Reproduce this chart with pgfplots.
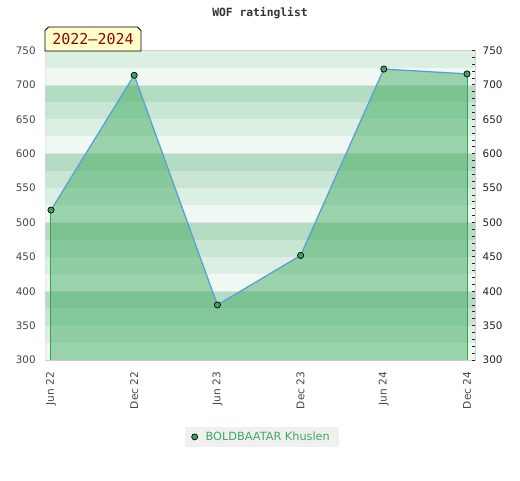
\documentclass[border=0pt]{standalone}
\usepackage{pgfplots}
\pgfplotsset{compat=1.18}
\usepackage{fontspec}
\setmainfont{DejaVu Sans}
\newfontfamily\monofont{DejaVu Sans Mono}
\definecolor{c1}{HTML}{DCEFE3}
\definecolor{c2}{HTML}{F0F8F3}
\definecolor{c3}{HTML}{B3DCC3}
\definecolor{c4}{HTML}{C8E6D3}
\definecolor{areagreen}{HTML}{3EAA5E}
\definecolor{edgegreen}{HTML}{3A9F5A}
\definecolor{lineblue}{HTML}{5B9FD8}
\definecolor{markgreen}{HTML}{3EA25E}
\definecolor{labelgray}{HTML}{474747}
\definecolor{rightgray}{HTML}{222222}
\definecolor{legendgreen}{HTML}{3DAA5F}
\definecolor{boxyellow}{HTML}{FFFFCC}
\definecolor{darkred}{HTML}{990000}
\begin{document}
\begin{tikzpicture}[x=1pt,y=1pt]
\path[use as bounding box] (0,0) rectangle (520,480);
\begin{axis}[
  at={(45.5pt,120pt)}, anchor=south west,
  scale only axis, width=429.5pt, height=309.5pt,
  xmin=-0.066, xmax=5.096, ymin=300, ymax=750,
  xtick={0,...,5},
  xticklabels={Jun 22,Dec 22,Jun 23,Dec 23,Jun 24,Dec 24},
  ytick={300,350,...,750},
  ytick pos=left, xtick pos=bottom,
  major tick length=0pt, minor tick length=0pt,
  tick style={draw=none},
  axis line style={draw=black!18, line width=1pt},
  xticklabel style={rotate=90, anchor=east, font=\fontsize{10.6}{12}\selectfont, text=labelgray},
  yticklabel style={font=\fontsize{10.4}{12}\selectfont, text=labelgray},
  xticklabel shift=8.2pt, yticklabel shift=6.3pt,
  /pgf/number format/assume math mode=true,
  legend style={at={(0.5035,-0.2485)}, anchor=center, fill=black!6, draw=none,
    font=\fontsize{11.3}{13}\selectfont, text=legendgreen, inner xsep=7pt, inner ysep=2.6pt,
    /tikz/every odd column/.style={column sep=6pt}},
  legend cell align=left,
]
% background stripes
\fill[c1] (axis cs:-1,725) rectangle (axis cs:6,750);
\fill[c2] (axis cs:-1,700) rectangle (axis cs:6,725);
\fill[c3] (axis cs:-1,675) rectangle (axis cs:6,700);
\fill[c4] (axis cs:-1,650) rectangle (axis cs:6,675);
\fill[c1] (axis cs:-1,625) rectangle (axis cs:6,650);
\fill[c2] (axis cs:-1,600) rectangle (axis cs:6,625);
\fill[c3] (axis cs:-1,575) rectangle (axis cs:6,600);
\fill[c4] (axis cs:-1,550) rectangle (axis cs:6,575);
\fill[c1] (axis cs:-1,525) rectangle (axis cs:6,550);
\fill[c2] (axis cs:-1,500) rectangle (axis cs:6,525);
\fill[c3] (axis cs:-1,475) rectangle (axis cs:6,500);
\fill[c4] (axis cs:-1,450) rectangle (axis cs:6,475);
\fill[c1] (axis cs:-1,425) rectangle (axis cs:6,450);
\fill[c2] (axis cs:-1,400) rectangle (axis cs:6,425);
\fill[c3] (axis cs:-1,375) rectangle (axis cs:6,400);
\fill[c4] (axis cs:-1,350) rectangle (axis cs:6,375);
\fill[c1] (axis cs:-1,325) rectangle (axis cs:6,350);
\fill[c2] (axis cs:-1,300) rectangle (axis cs:6,325);
\draw[black!12, line width=0.6pt] (axis cs:-1,700) -- (axis cs:6,700);
\draw[black!12, line width=0.6pt] (axis cs:-1,600) -- (axis cs:6,600);
\draw[black!12, line width=0.6pt] (axis cs:-1,500) -- (axis cs:6,500);
\draw[black!12, line width=0.6pt] (axis cs:-1,400) -- (axis cs:6,400);
% area
\addplot[draw=none, fill=areagreen, fill opacity=0.48, forget plot]
  coordinates {(0,518) (1,714) (2,380) (3,452) (4,723) (5,716)} \closedcycle;
\addplot[edgegreen, line width=1pt, forget plot] coordinates {(0,300) (0,518)};
\addplot[edgegreen, line width=1pt, forget plot] coordinates {(5,300) (5,716)};
\addplot[lineblue, line width=1.3pt, mark=*, mark size=3.1pt,
  mark options={fill=markgreen, draw=black, line width=0.7pt}, forget plot]
  coordinates {(0,518) (1,714) (2,380) (3,452) (4,723) (5,716)};
\addlegendimage{only marks, mark=*, mark size=3pt, mark options={fill=markgreen, draw=black, line width=0.7pt}}
\addlegendentry{BOLDBAATAR Khuslen}
\end{axis}
\begin{axis}[
  at={(45.5pt,120pt)}, anchor=south west,
  scale only axis, width=429.5pt, height=309.5pt,
  xmin=-0.066, xmax=5.096, ymin=300, ymax=750,
  hide x axis, axis y line*=right,
  ytick={300,350,...,750}, minor ytick={310,320,...,740},
  tick align=inside, major tick length=3pt, minor tick length=3pt,
  tick style={draw=black!85, line width=0.8pt},
  y axis line style={draw=black!18, line width=1pt},
  yticklabel style={font=\fontsize{10.4}{12}\selectfont, text=rightgray},
  yticklabel shift=4.2pt,
  /pgf/number format/assume math mode=true,
]
\end{axis}
\node[font=\monofont\bfseries\fontsize{11.3}{13}\selectfont, text=black!80] at (260,467) {WOF ratinglist};
\draw[fill=boxyellow, line width=0.8pt] (45,429) -- (45,449.5) -- (48.5,453) -- (137.5,453) -- (141,449.5) -- (141,429) -- cycle;
\node[font=\monofont\fontsize{15}{17}\selectfont, text=darkred] at (93,440.5) {2022–2024};
\end{tikzpicture}
\end{document}
